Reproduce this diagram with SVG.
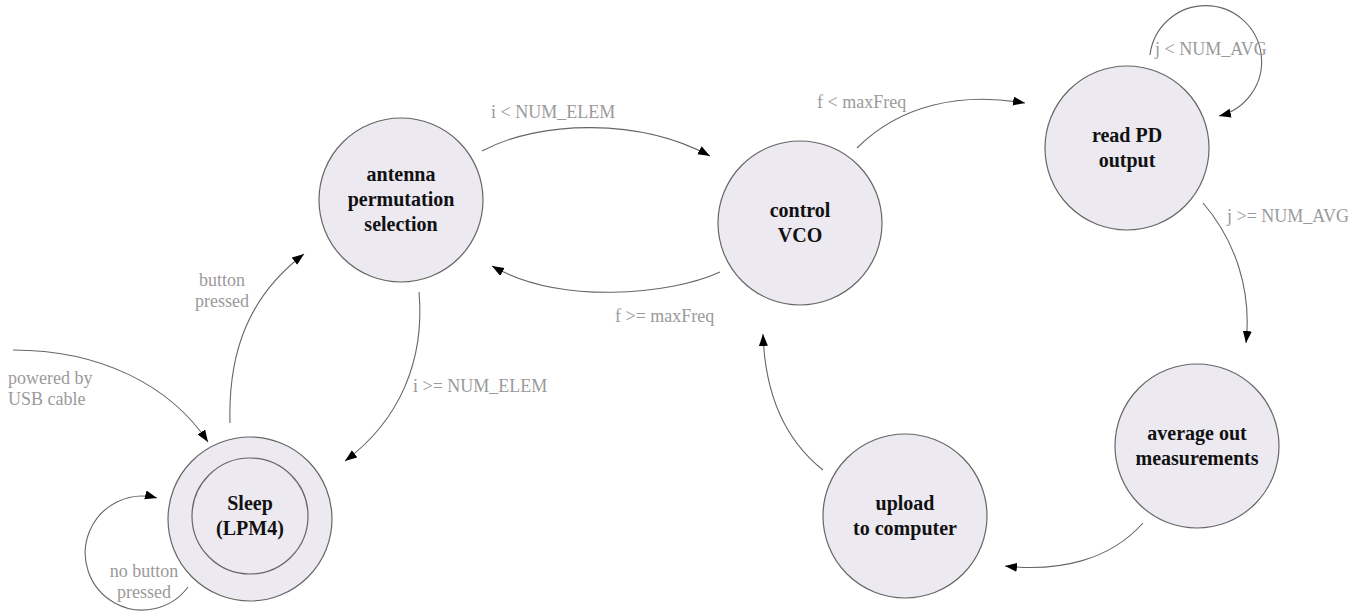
<svg xmlns="http://www.w3.org/2000/svg" width="1367" height="614" viewBox="0 0 1367 614">
<style>
.node{fill:#ECE9F1;stroke:#666;stroke-width:1.2}
.nt{font-family:"Liberation Serif","Times New Roman",serif;font-weight:bold;font-size:20px;fill:#111;text-anchor:middle}
.el{font-family:"Liberation Serif","Times New Roman",serif;font-size:18px;fill:#9a9a9a}
.edge{fill:none;stroke:#666;stroke-width:1.1;marker-end:url(#ah)}
</style>
<defs>
<marker id="ah" markerUnits="userSpaceOnUse" markerWidth="14" markerHeight="10" refX="12" refY="4.5" orient="auto">
<path d="M0,0 L12,4.5 L0,9 z" fill="#000"/>
</marker>
</defs>
<rect width="1367" height="614" fill="#fff"/>
<g id="connectors">
<path class="edge" d="M13,350 C100,350 170,385 208,442"/>
<path class="edge" d="M188,587 A57,57 0 1 1 157,498"/>
<path class="edge" d="M230,423 C228,350 250,295 304,254"/>
<path class="edge" d="M482,151 C540,120 640,118 710,156"/>
<path class="edge" d="M419,292 C425,360 400,420 345,461"/>
<path class="edge" d="M720,272 C670,295 560,305 492,266"/>
<path class="edge" d="M857,148 C900,105 960,92 1025,103"/>
<path class="edge" d="M1150,55 A56,56 0 1 1 1219,116"/>
<path class="edge" d="M1203,203 C1235,240 1252,290 1246,343"/>
<path class="edge" d="M1143,523 C1110,560 1060,572 1005,566"/>
<path class="edge" d="M823,470 C785,440 765,395 763,334"/>
</g>
<g id="edge-labels">
<text class="el" x="8" y="384">powered by</text>
<text class="el" x="8" y="405">USB cable</text>
<text class="el" x="144" y="577" text-anchor="middle">no button</text>
<text class="el" x="144" y="598" text-anchor="middle">pressed</text>
<text class="el" x="222" y="286" text-anchor="middle">button</text>
<text class="el" x="222" y="307" text-anchor="middle">pressed</text>
<text class="el" x="491" y="118">i &lt; NUM_ELEM</text>
<text class="el" x="413" y="392">i &gt;= NUM_ELEM</text>
<text class="el" x="615" y="322">f &gt;= maxFreq</text>
<text class="el" x="817" y="108">f &lt; maxFreq</text>
<text class="el" x="1155" y="55">j &lt; NUM_AVG</text>
<text class="el" x="1227" y="222">j &gt;= NUM_AVG</text>
</g>
<g id="sleep">
<circle class="node" cx="250" cy="519" r="82"/>
<circle class="node" cx="250" cy="516" r="58"/>
<text class="nt" x="250" y="510">Sleep</text>
<text class="nt" x="250" y="535">(LPM4)</text>
</g>
<g id="antenna">
<circle class="node" cx="401" cy="200" r="82"/>
<text class="nt" x="401" y="181">antenna</text>
<text class="nt" x="401" y="206">permutation</text>
<text class="nt" x="401" y="231">selection</text>
</g>
<g id="vco">
<circle class="node" cx="800" cy="223" r="82"/>
<text class="nt" x="800" y="217">control</text>
<text class="nt" x="800" y="242">VCO</text>
</g>
<g id="readpd">
<circle class="node" cx="1127" cy="148" r="82"/>
<text class="nt" x="1127" y="142">read PD</text>
<text class="nt" x="1127" y="167">output</text>
</g>
<g id="average">
<circle class="node" cx="1197" cy="446" r="82"/>
<text class="nt" x="1197" y="440">average out</text>
<text class="nt" x="1197" y="465">measurements</text>
</g>
<g id="upload">
<circle class="node" cx="905" cy="516" r="82"/>
<text class="nt" x="905" y="510">upload</text>
<text class="nt" x="905" y="535">to computer</text>
</g>
</svg>
